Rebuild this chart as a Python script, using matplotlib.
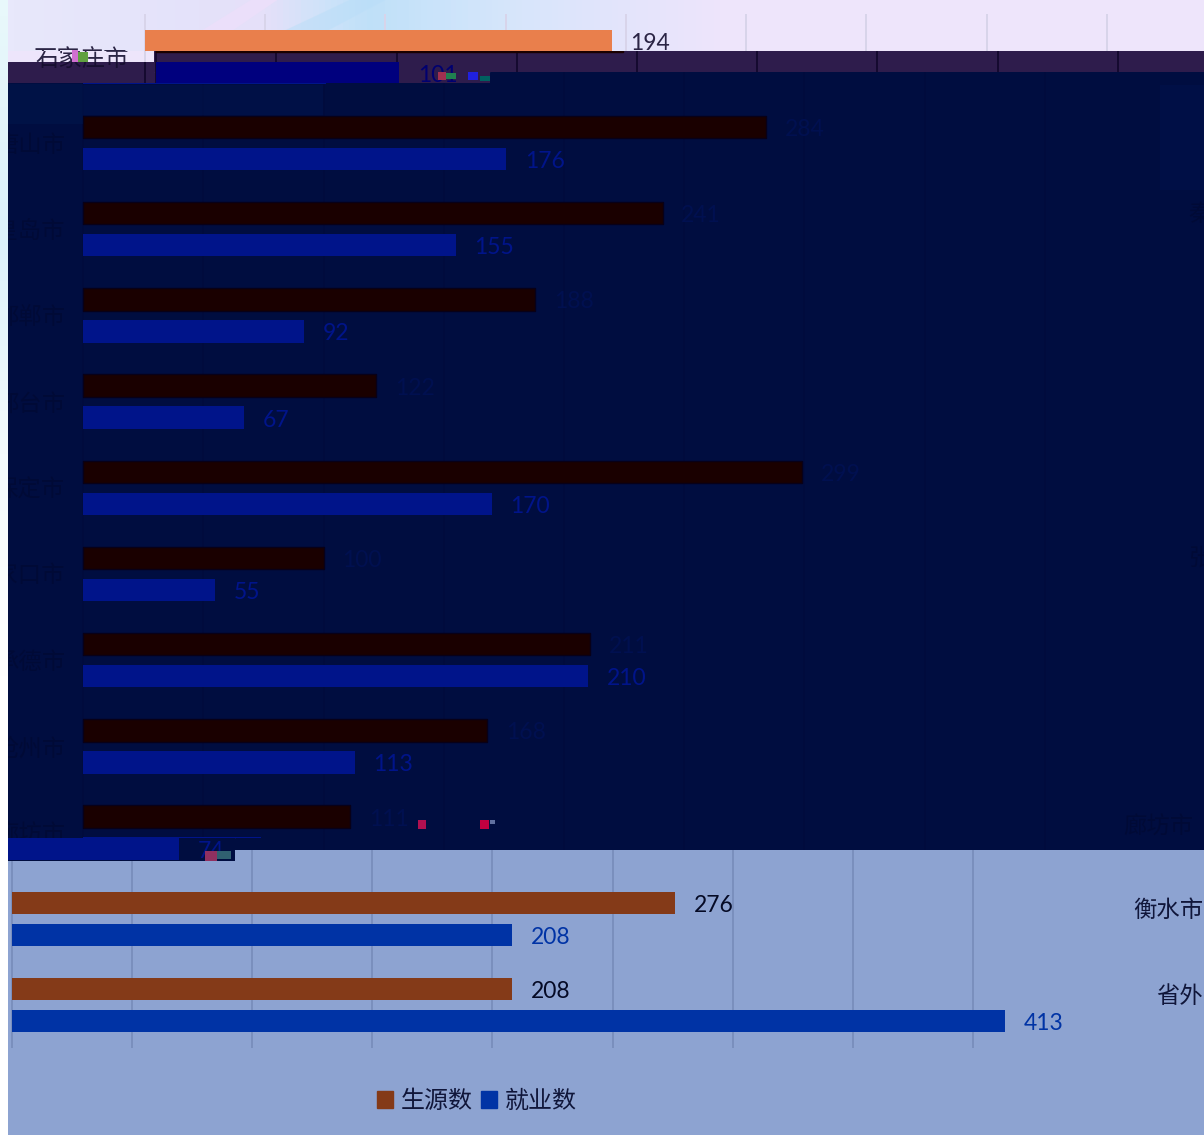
import numpy as np
import matplotlib
matplotlib.use("Agg")
import matplotlib.pyplot as plt
from matplotlib.colors import LinearSegmentedColormap
from matplotlib.patches import Patch, Polygon, Rectangle

plt.rcParams['font.family'] = ['Noto Sans CJK SC', 'DejaVu Sans']

cities = ["石家庄市", "唐山市", "秦皇岛市", "邯郸市", "邢台市", "保定市",
          "张家口市", "承德市", "沧州市", "廊坊市", "衡水市", "省外"]
source = [194, 284, 241, 188, 122, 299, 100, 211, 168, 111, 276, 208]
employed = [101, 176, 155, 92, 67, 170, 55, 210, 113, 74, 208, 413]
ticks = [0, 50, 100, 150, 200, 250, 300, 350, 400]

W, H = 1204, 1135
SCALE = 2.405     # px per student
ROW = 86.2        # px per city
ROW0 = 56.8       # px of first city
TEXT_DROP = 2.5 / ROW

light = dict(bg="#ede5fb", src="#e97f4c", emp="#e97f4c", grid="#d8d4ea", text="#2b2545",
             srctxt="#2b2545", emptxt="#2b2545", edge="none")
purple = dict(bg="#2e1c4c", src="#1a0000", emp="#00007e", grid="#150a30", text="#170e30",
              srctxt="#14103a", emptxt="#000070", edge="#1a0000")
navy = dict(bg="#000d40", src="#1a0000", emp="#00148a", grid="#000b3d", text="#000a36",
            srctxt="#001050", emptxt="#00148a", edge="#080018")
pale = dict(bg="#8da3d1", src="#843a18", emp="#0033a5", grid="#7a8fbd", text="#10163a",
            srctxt="#050a25", emptxt="#0033a5", edge="none")


def row(py):
    return (py - ROW0) / ROW


def tile(left, top, right, bottom, origin, st, labels=True, bars=True):
    # every tile is the same chart, only shifted sideways and recoloured
    ax = fig.add_axes([left / W, 1 - bottom / H, (right - left) / W, (bottom - top) / H])
    ax.set_xlim((left - origin) / SCALE, (right - origin) / SCALE)
    ax.set_ylim(row(bottom), row(top))
    ax.axis("off")
    ax.add_patch(Rectangle((0, 0), 1, 1, transform=ax.transAxes, color=st["bg"], zorder=0))
    ax.vlines(ticks, row(14), row(1048), color=st["grid"], lw=1.4, zorder=1)
    if not bars:
        return ax
    for i in range(len(cities)):
        ax.barh(i - 0.186, source[i], 0.26, color=st["src"], edgecolor=st["edge"], lw=1, zorder=2)
        ax.barh(i + 0.186, employed[i], 0.26, color=st["emp"], zorder=2)
        ax.text(source[i] + 7.8, i - 0.186 + TEXT_DROP, str(source[i]), family="Lato", fontsize=16.5,
                color=st["srctxt"], va="center", clip_on=True, zorder=3)
        ax.text(employed[i] + 7.8, i + 0.186 + TEXT_DROP, str(employed[i]), family="Lato", fontsize=16.5,
                color=st["emptxt"], va="center", clip_on=True, zorder=3)
        if labels:
            ax.text(-7.5, i + TEXT_DROP, cities[i], fontsize=16.8, color=st["text"], ha="right",
                    va="center", clip_on=True, zorder=3)
    return ax


def wrapped(ax, idx, right, origin, shift, st):
    # labels placed by hand: the first city's pieces, and those that came back on the right
    for i in idx:
        ax.text((right - origin) / SCALE, i + shift / ROW + TEXT_DROP, cities[i], fontsize=16.8,
                color=st["text"], ha="right", va="center", clip_on=True, zorder=3)


fig = plt.figure(figsize=(W / 100, H / 100), dpi=100, facecolor="white")

# left page strip
strip = fig.add_axes([0, 0, 8 / W, 1])
strip.imshow(np.linspace(0, 1, 50).reshape(-1, 1), aspect="auto", interpolation="bilinear",
             cmap=LinearSegmentedColormap.from_list("s", ["#e8f8fb", "#dcf1fa", "#f4fbfd", "#ffffff", "#ffffff", "#ffffff"]))
strip.axis("off")

# top band
top = tile(8, 0, 1204, 51, 145, light)
xl, yl = top.get_xlim(), top.get_ylim()
top.imshow(np.linspace(0, 1, 200).reshape(1, -1), aspect="auto", zorder=0.5,
           extent=(xl[0], xl[1], yl[0], yl[1]),
           cmap=LinearSegmentedColormap.from_list("t", [
               (0, "#e8e8fb"), (0.16, "#e4e2fa"), (0.21, "#e6e0f9"), (0.26, "#cfe3fa"), (0.30, "#bfe0f8"),
               (0.345, "#c8e3fa"), (0.43, "#d8e6fb"), (0.51, "#e3e4fb"), (0.6, "#eee5fb"), (1, "#eee5fb")]))
top.set_xlim(xl)
top.set_ylim(yl)
top.add_patch(Polygon([(10, row(51)), (44, row(0)), (55, row(0)), (24, row(51))], closed=True,
                      color="#ebdffa", lw=0, zorder=0.6))
top.add_patch(Polygon([(40, row(51)), (85, row(0)), (100, row(0)), (60, row(51))], closed=True,
                      color="#b9def8", alpha=0.5, lw=0, zorder=0.6))

piece = tile(8, 51, 154, 62, 145, light, bars=False)
wrapped(piece, [0], 129, 145, 0, light)
tile(154, 51, 1204, 72, 156, purple)
piece = tile(8, 62, 154, 84, 145, purple, bars=False)
wrapped(piece, [0], 129, 145, 0, purple)
tile(154, 72, 490, 84, 156, purple)

# dark band
tile(490, 72, 1204, 84, 83, navy)
dark = tile(8, 83, 1204, 837.5, 83, navy)
wrapped(dark, range(1, 10), 1282, 83, -17, navy)
wrapped(dark, [9], 1193, 83, -8, navy)
tile(235, 837.5, 1204, 850, 83, navy, bars=False)
tile(8, 837.5, 235, 861, 1, navy)

# bottom band
low = tile(235, 850, 1204, 1135, 11.5, pale, labels=False)
tile(8, 861, 235, 1135, 11.5, pale, labels=False)
wrapped(low, [10, 11], 1203, 11.5, -11, pale)
low.legend(handles=[Patch(color=pale["src"], label="生源数"), Patch(color=pale["emp"], label="就业数")],
           ncol=2, frameon=False, fontsize=17.3, loc="center", bbox_to_anchor=(477 / W, 1 - 1101 / H),
           bbox_transform=fig.transFigure, handlelength=0.66, handleheight=0.66,
           handletextpad=0.33, columnspacing=0.35, labelcolor=pale["text"])

# lighter patches of the damaged background
glow = [(8, 84, 75, 40, "#001a50"), (83, 85, 240, 30, "#001650"), (1160, 85, 44, 105, "#001450")]
for x, y, w, h, c in glow:
    fig.add_artist(Rectangle((x, H - y - h), w, h, transform=None, color=c, lw=0, alpha=0.4))

# small damaged blocks of the screenshot
noise = [(72, 50, 6, 12, "#d070d0"), (78, 52, 10, 10, "#60a040"), (438, 72, 8, 8, "#a03050"),
         (446, 73, 10, 6, "#208050"), (468, 72, 10, 8, "#2020e0"), (480, 76, 10, 5, "#006060"),
         (418, 820, 8, 9, "#b01050"), (480, 820, 9, 9, "#c00040"), (490, 820, 5, 4, "#6070a0"),
         (205, 851, 12, 10, "#903060"), (217, 851, 14, 8, "#306070")]
for x, y, w, h, c in noise:
    fig.add_artist(Rectangle((x, H - y - h), w, h, transform=None, color=c, lw=0))

fig.savefig("out.png", dpi=100)
